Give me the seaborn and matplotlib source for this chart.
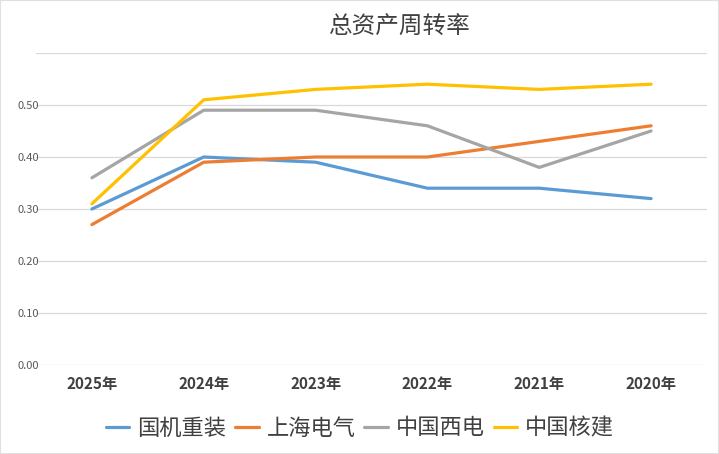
import numpy as np
import pandas as pd
import seaborn as sns
from matplotlib import pyplot as plt

years = ["2025年", "2024年", "2023年", "2022年", "2021年", "2020年"]
companies = ["国机重装", "上海电气", "中国西电", "中国核建"]
guoji = [0.30, 0.40, 0.39, 0.34, 0.34, 0.32]
shanghai = [0.27, 0.39, 0.40, 0.40, 0.43, 0.46]
xidian = [0.36, 0.49, 0.49, 0.46, 0.38, 0.45]
hejian = [0.31, 0.51, 0.53, 0.54, 0.53, 0.54]
y_ticks = [0.0, 0.1, 0.2, 0.3, 0.4, 0.5, 0.6]
y_labels = ["0.00", "0.10", "0.20", "0.30", "0.40", "0.50", ""]
colors = ["#5B9BD5", "#ED7D31", "#A5A5A5", "#FFC000"]

df = pd.DataFrame({
    "year": years * 4,
    "company": np.repeat(companies, len(years)),
    "value": guoji + shanghai + xidian + hejian,
})

sns.set_style("white")
plt.rcParams["font.family"] = ["Noto Sans CJK SC", "DejaVu Sans"]

f = plt.figure(figsize=(7.19, 4.54), dpi=100)
ax = f.add_axes([36 / 719, 89 / 454, 671 / 719, 312 / 454])

sns.lineplot(
    ax=ax,
    data=df,
    x="year",
    y="value",
    hue="company",
    hue_order=companies,
    palette=colors,
    linewidth=2.3,
    sort=False,
    legend=False,
)

ax.set_xlim(-0.5, len(years) - 0.5)
ax.set_ylim(0, 0.6)
ax.set_yticks(y_ticks)
ax.set_yticklabels(y_labels, fontsize=8, color="#595959")
ax.set_xticks(range(len(years)))
ax.set_xticklabels(years, fontsize=11, color="#404040", fontweight="bold")
ax.tick_params(axis="both", length=0)
ax.tick_params(axis="x", pad=8)
ax.tick_params(axis="y", pad=-2)
ax.grid(axis="y", color="#D9D9D9", linewidth=0.9)
for s in ax.spines.values():
    s.set_visible(False)
ax.set_xlabel("")
ax.set_ylabel("")

handles = [plt.Line2D([], [], color=c, linewidth=2.3) for c in colors]
f.legend(
    handles, companies,
    loc="center", bbox_to_anchor=(360 / 719, 1 - 428 / 454),
    ncol=4, frameon=False, fontsize=16,
    handlelength=1.05, handletextpad=0.36, columnspacing=0.4,
    labelcolor="#404040",
)

f.text(400 / 719, 1 - 27 / 454, "总资产周转率", ha="center", va="center",
       fontsize=17, color="#404040")

f.patches.append(plt.Rectangle((0, 0), 1, 1, transform=f.transFigure,
                               fill=False, edgecolor="#E0E0E0", linewidth=1.5))

f.savefig("out.png", dpi=100)
